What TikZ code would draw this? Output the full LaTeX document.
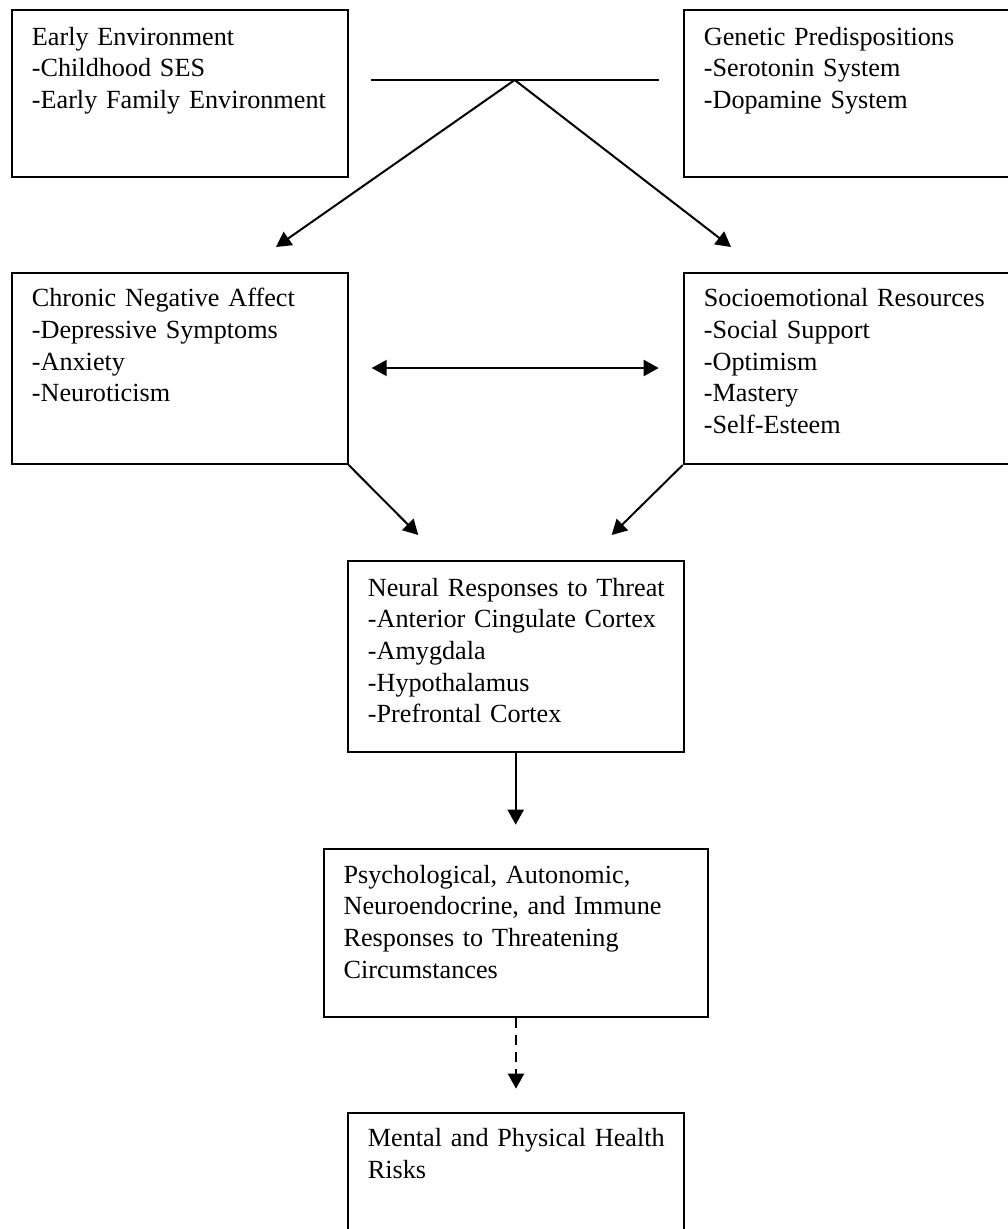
\documentclass[tikz,border=0pt]{standalone}
\usepackage{fontspec}
\setmainfont{Liberation Serif}
\usepackage{tikz}
\usetikzlibrary{arrows.meta}

\tikzset{
    caixa/.style={draw, line width=2pt, inner sep=0pt, anchor=north west},
    texto/.style={anchor=base west, inner sep=0pt, align=left, text width=350pt,
        font=\fontsize{26.2}{31.7}\selectfont},
    seta/.style={line width=2pt, -{Triangle[length=15pt,width=16pt]}},
    setadupla/.style={line width=2pt, {Triangle[length=15pt,width=16pt]}-{Triangle[length=15pt,width=16pt]}},
}

\begin{document}
\begin{tikzpicture}[x=1pt, y=-1pt]
    \useasboundingbox (0,0) rectangle (1008,1229);

    % Caixas de cima
    \node[caixa, minimum width=335.7pt, minimum height=167pt] (early) at (11,9) {};
    \node[texto] (earlyT) at ([xshift=20.7pt,yshift=-36pt]early.north west)
        {Early Environment\\-Childhood SES\\-Early Family Environment};
    \node[caixa, minimum width=335.7pt, minimum height=167pt] (genetic) at (682.7,9) {};
    \node[texto] (geneticT) at ([xshift=21pt,yshift=-36pt]genetic.north west)
        {Genetic Predispositions\\-Serotonin System\\-Dopamine System};

    % Barra e setas para o meio
    \coordinate (barE) at (370.7,80);
    \coordinate (barD) at (658.8,80);
    \coordinate (topo) at (514.7,80);
    \coordinate (pontaE) at (276,247);
    \coordinate (pontaD) at (731,247);
    \draw[line width=2pt] (barE) -- (barD);
    \draw[seta] (topo) -- (pontaE);
    \draw[seta] (topo) -- (pontaD);

    % Caixas do meio
    \node[caixa, minimum width=335.7pt, minimum height=191.3pt] (cna) at (11,271.7) {};
    \node[texto] (cnaT) at ([xshift=20.7pt,yshift=-35pt]cna.north west)
        {Chronic Negative Affect\\-Depressive Symptoms\\-Anxiety\\-Neuroticism};
    \node[caixa, minimum width=335.7pt, minimum height=191.3pt] (socio) at (682.7,271.7) {};
    \node[texto] (socioT) at ([xshift=21pt,yshift=-35pt]socio.north west)
        {Socioemotional Resources\\-Social Support\\-Optimism\\-Mastery\\-Self-Esteem};

    % Seta dupla
    \coordinate (duplaE) at (371.7,368);
    \coordinate (duplaD) at (658.7,368);
    \draw[setadupla] (duplaE) -- (duplaD);

    % Setas para a resposta neural
    \coordinate (pontaN1) at (418.3,535);
    \coordinate (pontaN2) at (611.7,535);
    \draw[seta] (cna.south east) -- (pontaN1);
    \draw[seta] (socio.south west) -- (pontaN2);

    % Resposta neural
    \node[caixa, minimum width=336pt, minimum height=190.7pt] (neural) at (346.7,560) {};
    \node[texto] (neuralT) at ([xshift=21pt,yshift=-36pt]neural.north west)
        {Neural Responses to Threat\\-Anterior Cingulate Cortex\\-Amygdala\\-Hypothalamus\\-Prefrontal Cortex};
    \coordinate (pontaP) at ([yshift=-72pt]neural.south);
    \draw[seta] (neural.south) -- (pontaP);

    % Respostas psicologicas
    \node[caixa, minimum width=384.6pt, minimum height=168pt] (psych) at (322.7,847.7) {};
    \node[texto] (psychT) at ([xshift=20.7pt,yshift=-35.3pt]psych.north west)
        {Psychological, Autonomic,\\Neuroendocrine, and Immune\\Responses to Threatening\\Circumstances};
    \coordinate (pontaM) at ([yshift=-71pt]psych.south);
    \draw[seta, dash pattern=on 10pt off 7pt] (psych.south) -- (pontaM);

    % Riscos de saude
    \node[caixa, minimum width=336pt, minimum height=190pt] (health) at (346.7,1111.7) {};
    \node[texto] (healthT) at ([xshift=21pt,yshift=-35pt]health.north west)
        {Mental and Physical Health\\Risks};
\end{tikzpicture}
\end{document}
